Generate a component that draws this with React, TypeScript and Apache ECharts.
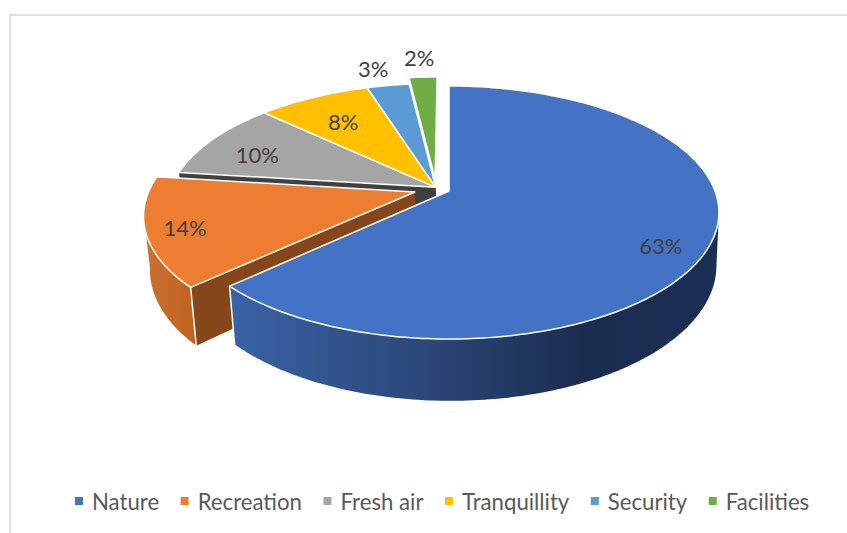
import React, { useEffect, useRef } from "react";
import * as echarts from "echarts";

const categories = ["Nature", "Recreation", "Fresh air", "Tranquillity", "Security", "Facilities"];
const shares = [63, 14, 10, 8, 3, 2];
const colors = ["#4472C4", "#ED7D31", "#A5A5A5", "#FFC000", "#5B9BD5", "#70AD47"];

// Layout of the 3D pie: a ground disc seen through a homography.
const ORIGIN = { x: 449, y: 191 };
const SCALE = { x: 266, y: 122.85, persp: 0.17 };
const OFFSETS = [[0, 0], [-0.128, -0.008], [-0.05, 0.03], [-0.05, 0.03], [-0.05, 0.03], [-0.053, 0.102]];
const LABEL_R = [0.82, 0.86, 0.8, 0.8, 1.2, 1.18];
const LABEL_NUDGE = [[0, 12], [0, 1], [2, 6], [8, 8], [-7, 0], [-2, -4]];
// angle ranges of visible outer walls, clipped to the silhouette (degrees clockwise from top)
const OUTER_LIMIT: Record<number, [number, number]> = { 0: [100, 226.8], 1: [226.8, 260] };
const INNER_WALL: Record<number, { color: string }> = { 1: { color: "#84461A" }, 2: { color: "#404040" } };
const DRAW_Z = [6, 5, 2, 3, 3, 3];
const FONT = "Lato";

const total = shares.reduce((a, b) => a + b, 0);
const starts = shares.map((_, i) => (shares.slice(0, i).reduce((a, b) => a + b, 0) / total) * 360);

function proj(u: number, v: number): [number, number] {
  const d = 1 + SCALE.persp * v;
  return [ORIGIN.x + (SCALE.x * u) / d, ORIGIN.y - (SCALE.y * v) / d];
}
function rimPoint(i: number, deg: number, r = 1): [number, number] {
  const a = (deg * Math.PI) / 180;
  return proj(r * Math.sin(a) + OFFSETS[i][0], r * Math.cos(a) + OFFSETS[i][1]);
}
function drop(p: [number, number]): [number, number] {
  return [p[0] + (557 - p[0]) * 0.0154, p[1] + 53 + 0.07 * (p[1] - 213)];
}
function arc(i: number, a: number, b: number): [number, number][] {
  const pts: [number, number][] = [];
  const n = Math.max(2, Math.ceil(Math.abs(b - a)));
  for (let k = 0; k <= n; k++) pts.push(rimPoint(i, a + ((b - a) * k) / n));
  return pts;
}

function makeRender(i: number) {
  return (_params: any, api: any) => {
    const value = api.value(0);
    const a0 = starts[i];
    const a1 = a0 + (value / total) * 360;
    const apex = rimPoint(i, 0, 0);
    const children: any[] = [];

    if (INNER_WALL[i]) {
      const edge = rimPoint(i, a0);
      children.push({
        type: "polygon",
        shape: { points: [apex, edge, drop(edge), drop(apex)] },
        style: { fill: INNER_WALL[i].color, stroke: null },
        silent: true,
      });
    }
    if (OUTER_LIMIT[i]) {
      const [l0, l1] = OUTER_LIMIT[i];
      const top = arc(i, l0, l1);
      const bottom = top.map(drop).reverse();
      const fill =
        i === 0
          ? new echarts.graphic.LinearGradient(0, 0, 1, 0, [
              { offset: 0, color: "#3A63A6" },
              { offset: 0.42, color: "#2A4676" },
              { offset: 0.72, color: "#1A2C50" },
              { offset: 1, color: "#1B2E53" },
            ])
          : new echarts.graphic.LinearGradient(0, 0, 1, 0, [
              { offset: 0, color: "#CB7030" },
              { offset: 1, color: "#BF6323" },
            ]);
      children.push({
        type: "polygon",
        shape: { points: [...top, ...bottom] },
        style: { fill, stroke: null },
        silent: true,
      });
      const corner = rimPoint(i, 226.8);
      children.push({
        type: "line",
        shape: { x1: corner[0], y1: corner[1], x2: drop(corner)[0], y2: drop(corner)[1] },
        style: { stroke: "#FFFFFF", lineWidth: 1.5 },
        silent: true,
      });
    }
    children.push({
      type: "polygon",
      shape: { points: [apex, ...arc(i, a0, a1)] },
      style: { fill: colors[i], stroke: "#FFFFFF", lineWidth: 1.5, lineJoin: "round" },
    });
    const mid = (a0 + a1) / 2;
    const lp = rimPoint(i, mid, LABEL_R[i]);
    children.push({
      type: "text",
      x: lp[0] + LABEL_NUDGE[i][0],
      y: lp[1] + LABEL_NUDGE[i][1],
      style: {
        text: `${value}%`,
        fill: "#404040",
        font: `22px ${FONT}`,
        align: "center",
        verticalAlign: "middle",
      },
    });
    return { type: "group", children };
  };
}

export default function App() {
  const ref = useRef<HTMLDivElement>(null);
  useEffect(() => {
    const chart = echarts.init(ref.current!, null, { renderer: "svg" });
    chart.setOption({
      animation: false,
      backgroundColor: "#FFFFFF",
      legend: {
        data: categories,
        left: 70,
        top: 485,
        icon: "rect",
        itemWidth: 8,
        itemHeight: 8,
        itemGap: 21.5,
        textStyle: { fontFamily: FONT, fontSize: 22.2, color: "#595959", padding: [0, 0, 0, 4] },
        selectedMode: false,
      },
      graphic: [
        { type: "rect", shape: { x: 9, y: 14, width: 838, height: 2 }, style: { fill: "#E0E0E0" } },
        { type: "rect", shape: { x: 9, y: 14, width: 2, height: 519 }, style: { fill: "#E0E0E0" } },
      ],
      series: categories.map((name, i) => ({
        type: "custom",
        name,
        z: DRAW_Z[i],
        coordinateSystem: "none",
        itemStyle: { color: colors[i] },
        data: [[shares[i]]],
        encode: { value: 0 },
        renderItem: makeRender(i),
      })),
    });
    return () => chart.dispose();
  }, []);
  return <div ref={ref} style={{ position: "fixed", left: 0, top: 0, width: 847, height: 533 }} />;
}
